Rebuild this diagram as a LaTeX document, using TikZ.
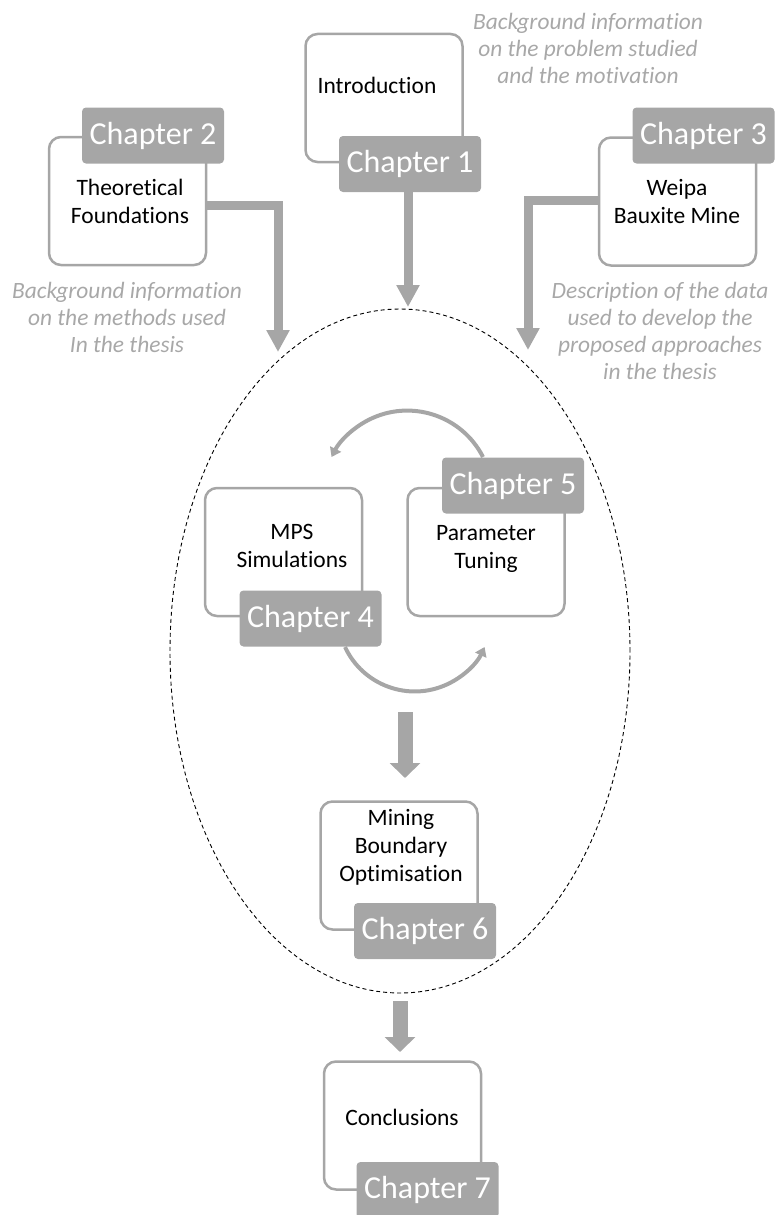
\documentclass[tikz,border=0pt]{standalone}
\usepackage{fontspec}
\setmainfont{Carlito}[Ligatures={NoCommon,NoContextual}]
\usetikzlibrary{arrows.meta,shapes.geometric}
\definecolor{boxgray}{HTML}{A6A6A6}
\definecolor{notegray}{HTML}{A8A8A8}

\begin{document}
\begin{tikzpicture}[x=1pt, y=-1pt,
	box/.style={draw=boxgray, line width=2.5pt, rounded corners=12pt, fill=white,
		minimum width=157pt, minimum height=128pt, inner sep=0pt},
	tab/.style={fill=boxgray, rounded corners=4pt, text=white, inner sep=0pt,
		minimum width=142pt, minimum height=56pt, font=\fontsize{32}{38}\selectfont},
	boxtext/.style={align=center, font=\fontsize{23.5}{28}\selectfont},
	note/.style={align=center, text=notegray, font=\fontsize{23.4}{27}\selectfont\itshape},
	fatarrow/.style={draw=boxgray, line width=9pt, -{Triangle[width=22pt, length=22pt]}},
	widearrow/.style={draw=boxgray, line width=15pt, -{Triangle[width=30pt, length=15pt]}},
	looparrow/.style={draw=boxgray, line width=4pt, -{Triangle[width=12pt, length=9pt]}}
]
	\useasboundingbox (0,0) rectangle (784,1215);

	% dashed core of the thesis
	\node[draw, ellipse, dash pattern=on 4pt off 3pt, line width=0.9pt, inner sep=0pt,
		minimum width=460pt, minimum height=684pt] (core) at (400,651) {};

	% loop between chapters 4 and 5
	\coordinate (loopA) at (483,457);
	\coordinate (loopB) at (345,647);
	\draw[looparrow] (loopA) arc[start angle=27, end angle=153, radius=85pt];
	\draw[looparrow] (loopB) arc[start angle=205, end angle=335, radius=77pt];

	% boxes
	\node[box] (intro) at (384,98) {};
	\node[box] (theory) at (127.5,201) {};
	\node[box] (weipa) at (677.5,201.5) {};
	\node[box] (mps) at (283.5,552) {};
	\node[box] (param) at (486,552) {};
	\node[box] (mining) at (399,865.5) {};
	\node[box] (concl) at (402.5,1125.5) {};

	\node[boxtext] (introtxt) at (377,85) {Introduction};
	\node[boxtext] (theorytxt) at (130,201) {Theoretical\\Foundations};
	\node[boxtext] (weipatxt) at (677,201) {Weipa\\Bauxite Mine};
	\node[boxtext] (mpstxt) at (292,546) {MPS\\Simulations};
	\node[boxtext] (paramtxt) at (486,549) {Parameter\\Tuning};
	\node[boxtext] (miningtxt) at (401,847) {Mining\\Boundary\\Optimisation};
	\node[boxtext] (concltxt) at (402,1117) {Conclusions};

	% arrows into and out of the core
	\coordinate (tip2) at (278,352);
	\coordinate (tip3) at (528,350);
	\coordinate (midtop) at (405,712);
	\coordinate (midtip) at (405,778);
	\coordinate (endtip) at (400,1052);
	\draw[fatarrow] (intro.south -| 408,0) -- (408,307);
	\draw[fatarrow] ([yshift=-4pt]theory.east) -| (tip2);
	\draw[fatarrow] ([yshift=1pt]weipa.west) -| (tip3);
	\draw[widearrow] (midtop) -- (midtip);
	\draw[widearrow] ([yshift=-8pt]core.south) -- (endtip);

	% chapter tabs
	\node[tab] (tab1) at (410,164) {Chapter 1};
	\node[tab] (tab2) at (153,135.5) {Chapter 2};
	\node[tab] (tab3) at (703.5,135.5) {Chapter 3};
	\node[tab] (tab4) at (310.5,618.5) {Chapter 4};
	\node[tab] (tab5) at (513,485.5) {Chapter 5};
	\node[tab] (tab6) at (425,931) {Chapter 6};
	\node[tab] (tab7) at (427.5,1190) {Chapter 7};

	% notes
	\node[note] (note1) at (588,48) {Background information\\on the problem studied\\and the motivation};
	\node[note] (note2) at (127,317) {Background information\\on the methods used\\In the thesis};
	\node[note] (note3) at (660,331) {Description of the data\\used to develop the\\proposed approaches\\in the thesis};
\end{tikzpicture}
\end{document}
